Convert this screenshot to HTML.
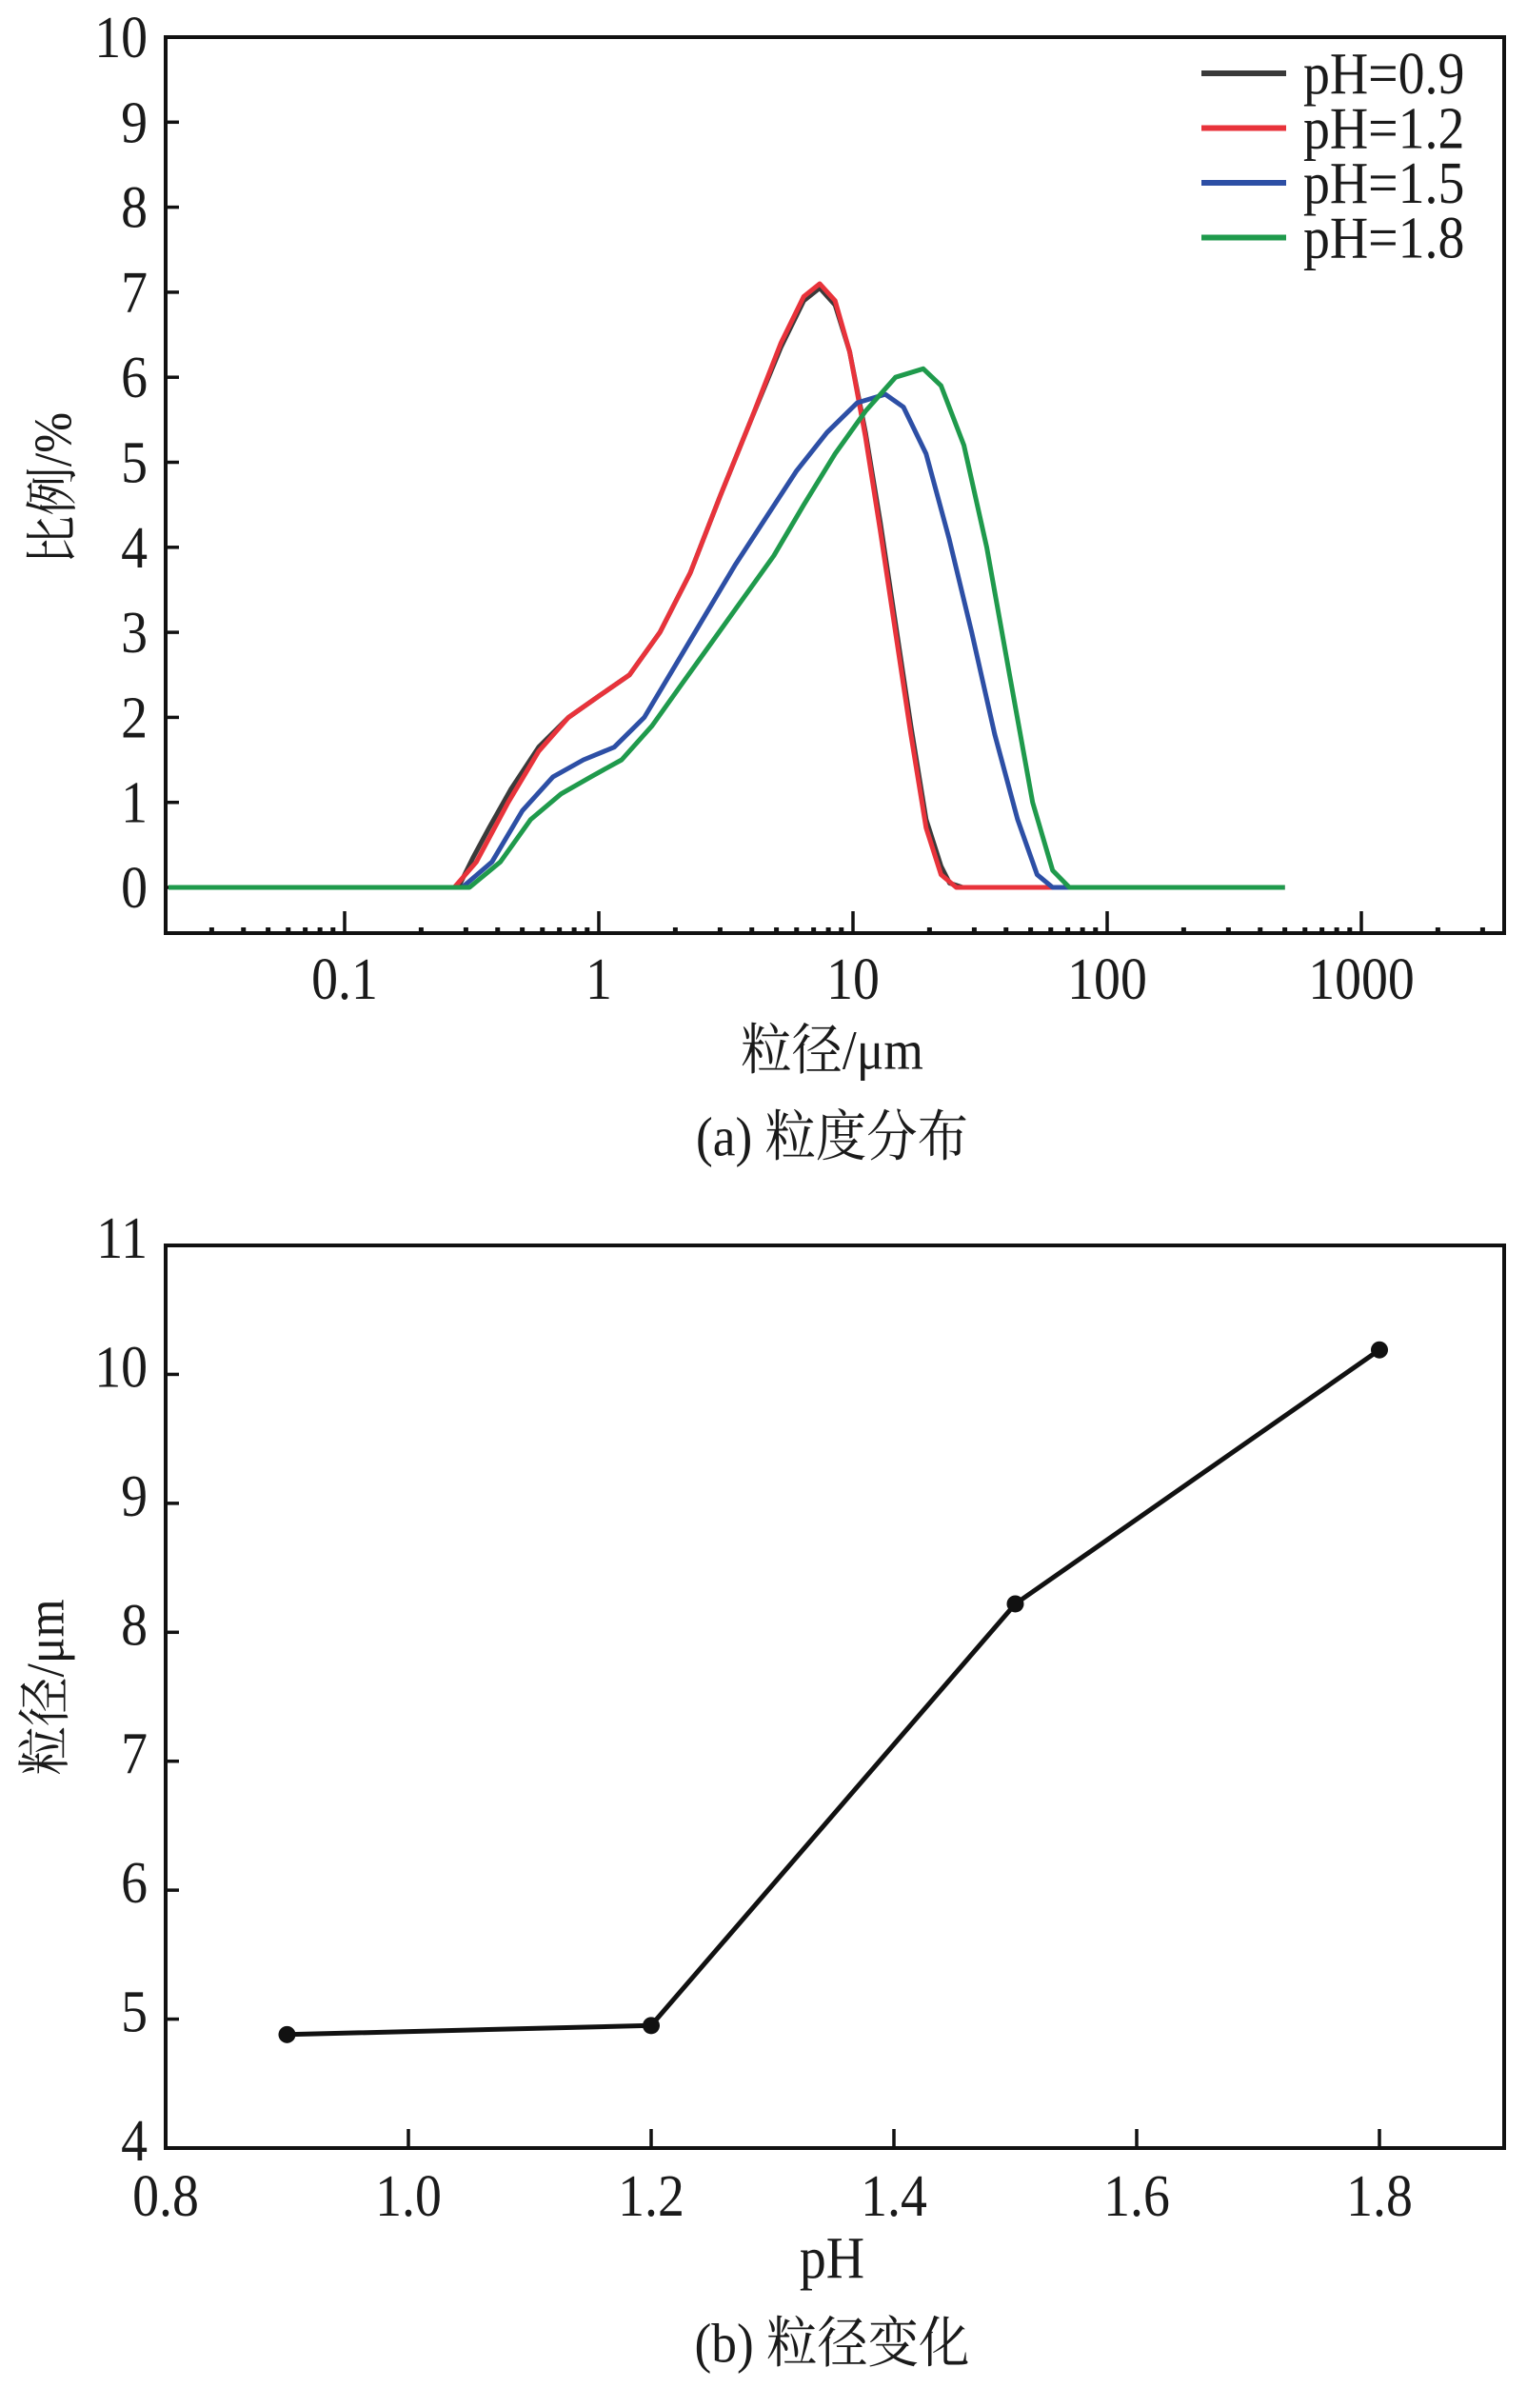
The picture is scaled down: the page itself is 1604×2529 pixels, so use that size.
<!DOCTYPE html>
<html><head><meta charset="utf-8"><style>
html,body{margin:0;padding:0;background:#fff;width:1604px;height:2529px;overflow:hidden}
svg{display:block}
text{font-family:"Liberation Serif","Noto Serif CJK SC",serif;fill:#1a1a1a}
</style></head><body>
<svg id="fig" width="1604" height="2529" viewBox="0 0 1604 2529" xmlns="http://www.w3.org/2000/svg"></svg>
<script>
// ---------- Chart (a) data ----------
const aYTicks = [0,1,2,3,4,5,6,7,8,9,10];
const aXTickLabels = ["0.1","1","10","100","1000"];
const aXTickValues = [0.1,1,10,100,1000];
const legendLabels = ["pH=0.9","pH=1.2","pH=1.5","pH=1.8"];
const seriesColors = ["#3a3a3a","#e8333b","#2d4fa5","#1f9a4c"];
const blackX = [0.02,0.28,0.32,0.37,0.45,0.58,0.76,1,1.32,1.74,2.29,3.0,3.97,5.2,6.4,7.4,8.5,9.7,11.2,12.8,14.7,16.9,19.4,22.2,24,27,500];
const blackY = [0,0,0.35,0.7,1.15,1.65,2.0,2.25,2.5,3.0,3.7,4.6,5.5,6.35,6.9,7.05,6.85,6.3,5.35,4.3,3.1,1.9,0.8,0.25,0.05,0,0];
const redX = [0.02,0.27,0.33,0.44,0.58,0.76,1,1.32,1.74,2.29,3.0,3.97,5.2,6.4,7.4,8.5,9.7,11.2,12.8,14.7,16.9,19.4,22.2,25.5,500];
const redY = [0,0,0.3,1.0,1.6,2.0,2.25,2.5,3.0,3.7,4.6,5.5,6.4,6.95,7.1,6.9,6.3,5.3,4.2,3.0,1.8,0.7,0.15,0,0];
const blueX = [0.02,0.29,0.38,0.50,0.66,0.87,1.15,1.51,1.99,2.62,3.45,4.55,6.0,7.9,10.4,13.4,15.8,19.4,23.9,29.3,36.1,44.4,53,61,500];
const blueY = [0,0,0.3,0.9,1.3,1.5,1.65,2.0,2.6,3.2,3.8,4.35,4.9,5.35,5.7,5.8,5.65,5.1,4.1,3.0,1.8,0.8,0.15,0,0];
const greenX = [0.02,0.31,0.41,0.54,0.71,0.93,1.23,1.62,2.13,2.81,3.7,4.88,6.4,8.5,11.2,14.7,18.9,22.2,27.3,33.6,41.3,50.9,61,71,500];
const greenY = [0,0,0.3,0.8,1.1,1.3,1.5,1.9,2.4,2.9,3.4,3.9,4.5,5.1,5.6,6.0,6.1,5.9,5.2,4.0,2.5,1.0,0.2,0,0];
// ---------- Chart (b) data ----------
const bX = [0.9,1.2,1.5,1.8];
const bY = [4.88,4.95,8.22,10.19];
const bYTicks = [4,5,6,7,8,9,10,11];
const bXTickLabels = ["0.8","1.0","1.2","1.4","1.6","1.8"];
const bXTickValues = [0.8,1.0,1.2,1.4,1.6,1.8];

const NS="http://www.w3.org/2000/svg";
const svg=document.getElementById('fig');
function mk(tag,attrs,parent){const e=document.createElementNS(NS,tag);for(const k in attrs)e.setAttribute(k,attrs[k]);(parent||svg).appendChild(e);return e;}
function txt(x,y,s,size,anchor,parent,sx){
  const g=mk('g',{transform:`translate(${x},${y}) scale(${sx||0.9},1)`},parent);
  const t=mk('text',{x:0,y:0,'font-size':size,'text-anchor':anchor||'middle','dominant-baseline':'central'},g);
  t.textContent=s;return t;}

// ===== Chart A =====
const A={l:174,r:1580,t:39,b:980};
const ay=v=>932-(v)*89.3;
const ax=v=>629+Math.log10(v)*267;
const gA=mk('g',{});


const frameA=mk('rect',{x:A.l,y:A.t,width:A.r-A.l,height:A.b-A.t,fill:'none',stroke:'#111','stroke-width':4},gA);


aYTicks.forEach(v=>{
  const tk=mk('line',{x1:A.l,x2:A.l+14,y1:ay(v),y2:ay(v),stroke:'#111','stroke-width':3.5},gA);
  
  
  const t=txt(155,ay(v),String(v),62,'end',gA);
  
  
});
for(let d=-2;d<=3;d++){
  for(let m=1;m<=9;m++){
    const v=m*Math.pow(10,d);const x=ax(v);
    if(x<A.l+2||x>A.r-2)continue;
    const len=m===1?23:6;
    const tk=mk('line',{x1:x,x2:x,y1:A.b,y2:A.b-len,stroke:'#111','stroke-width':m===1?3.5:5},gA);
    
    
  }
}
aXTickValues.forEach((v,i)=>{
  const t=txt(ax(v),1028,aXTickLabels[i],62,'middle',gA);
  
  
});
const series=[[blackX,blackY],[redX,redY],[blueX,blueY],[greenX,greenY]];
const sNames=['line-ph-0-9','line-ph-1-2','line-ph-1-5','line-ph-1-8'];
series.forEach((s,i)=>{
  const pts=s[0].map((x,j)=>`${Math.max(A.l+3,ax(x)).toFixed(1)},${ay(s[1][j]).toFixed(1)}`).join(' ');
  const pl=mk('polyline',{points:pts,fill:'none',stroke:seriesColors[i],'stroke-width':5,'stroke-linejoin':'round'},gA);
  
  
});
legendLabels.forEach((lab,i)=>{
  const y=77+i*57.5;
  const ln=mk('line',{x1:1262,x2:1351,y1:y,y2:y,stroke:seriesColors[i],'stroke-width':6},gA);
  
  
  const t=txt(1369,y,lab,62,'start',gA);
  
  
});
const axTitle=txt(874,1104,'粒径/μm',58,'middle',gA,0.92);


const ayg=mk('g',{transform:'translate(56,513) rotate(-90)'},gA);
const ayTitle=txt(0,0,'比例/%',56,'middle',ayg,0.92);


const capA=txt(874,1195,'(a) 粒度分布',58,'middle',gA,0.92);



// ===== Chart B =====
const B={l:174,r:1580,t:1308,b:2256};
const by=v=>B.b-(v-4)*(B.b-B.t)/7;
const bx=v=>B.l+(v-0.8)*(255/0.2);
const gB=mk('g',{});


const frameB=mk('rect',{x:B.l,y:B.t,width:B.r-B.l,height:B.b-B.t,fill:'none',stroke:'#111','stroke-width':4},gB);


bYTicks.forEach(v=>{
  const tk=mk('line',{x1:B.l,x2:B.l+14,y1:by(v),y2:by(v),stroke:'#111','stroke-width':3.5},gB);
  
  
  const t=txt(155,by(v)-8,String(v),62,'end',gB);
  
  
});
bXTickValues.forEach((v,i)=>{
  if(i>0){
    const tk=mk('line',{x1:bx(v),x2:bx(v),y1:B.b,y2:B.b-20,stroke:'#111','stroke-width':3.5},gB);
    
    
  }
  const t=txt(bx(v),2306,bXTickLabels[i],62,'middle',gB);
  
  
});
const lineB=mk('polyline',{points:bX.map((x,i)=>`${bx(x).toFixed(1)},${by(bY[i]).toFixed(1)}`).join(' '),fill:'none',stroke:'#111','stroke-width':5,'stroke-linejoin':'round'},gB);


bX.forEach((x,i)=>{
  const c=mk('circle',{cx:bx(x),cy:by(bY[i]),r:9,fill:'#111'},gB);
  
  
});
const bxTitle=txt(874,2371,'pH',62,'middle',gB);


const byg=mk('g',{transform:'translate(48,1772) rotate(-90)'},gB);
const byTitle=txt(0,0,'粒径/μm',56,'middle',byg,0.92);


const capB=txt(874,2462,'(b) 粒径变化',58,'middle',gB,0.92);


</script>
</body></html>
